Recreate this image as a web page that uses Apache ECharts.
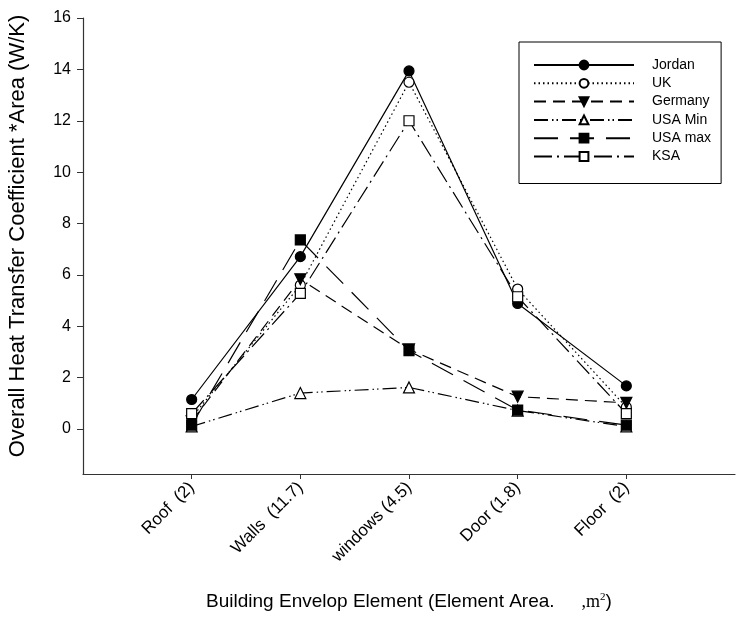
<!DOCTYPE html>
<html>
<head>
<meta charset="utf-8">
<script src="https://cdn.jsdelivr.net/npm/echarts@6/dist/echarts.min.js"></script>
<style>
  html, body { margin: 0; padding: 0; background: #fff; }
  #chart { width: 740px; height: 622px; }
</style>
</head>
<body>
<div id="chart"></div>
<script>
// categories along x (positions 1..5 on the value axis)
const categories = ['Roof  (2)', 'Walls  (11.7)', 'windows (4.5)', 'Door (1.8)', 'Floor  (2)'];
const yTicks = [0, 2, 4, 6, 8, 10, 12, 14, 16];

// values
const jordan  = [1.15, 6.71, 13.94, 4.89, 1.68];
const uk      = [0.45, 5.6, 13.5, 5.45, 0.85];
const germany = [0.3, 5.83, 3.1, 1.26, 1.02];
const usaMin  = [0.1, 1.4, 1.62, 0.72, 0.1];
const usaMax  = [0.15, 7.36, 3.05, 0.74, 0.15];
const ksa     = [0.6, 5.28, 12.0, 5.15, 0.6];

const toPoints = arr => arr.map((v, i) => [i + 1, v]);

const mk = (name, data, symbol, filled, dash, rotate) => ({
    name: name,
    type: 'line',
    data: toPoints(data),
    symbol: symbol,
    symbolSize: symbol === 'triangle' ? 11 : 10,
    symbolRotate: rotate || 0,
    showAllSymbol: true,
    z: 3,
    lineStyle: { color: '#000', width: 1.2, type: dash },
    itemStyle: { color: filled ? '#000' : '#fff', borderColor: '#000', borderWidth: 1.2 },
    emphasis: { disabled: true },
    animation: false
});

const chart = echarts.init(document.getElementById('chart'));

chart.setOption({
    animation: false,
    textStyle: { fontFamily: 'Liberation Sans, Arial, sans-serif', color: '#000' },
    grid: {
        left: 83, right: 5, top: 18, bottom: 148,
        containLabel: false,
        outerBoundsMode: 'none'
    },
    legend: {
        orient: 'vertical',
        left: 519,
        top: 42,
        padding: [16, 10, 20, 14],
        itemWidth: 100,
        itemHeight: 11,
        itemGap: 4.3,
        borderColor: '#000',
        borderWidth: 1,
        textStyle: { fontSize: 14, color: '#000', padding: [0, 0, 0, 13] },
        data: ['Jordan', 'UK', 'Germany', 'USA Min', 'USA max', 'KSA']
    },
    xAxis: {
        type: 'value',
        min: 0,
        max: 6,
        splitLine: { show: false },
        axisLine: { onZero: false, lineStyle: { color: '#333', width: 1.2 } },
        axisTick: { length: 5, lineStyle: { color: '#333' }, customValues: [1, 2, 3, 4, 5] },
        axisLabel: {
            customValues: [1, 2, 3, 4, 5],
            rotate: 45,
            fontSize: 17,
            color: '#000',
            margin: 11,
            formatter: v => categories[v - 1] || ''
        },
        name: '{a|Building Envelop Element (Element Area.}{b|      ,m}{s|2}{a|)}',
        nameLocation: 'middle',
        nameGap: 118,
        nameTextStyle: {
            rich: {
                a: { fontSize: 19, fontFamily: 'Liberation Sans, Arial, sans-serif', color: '#000' },
                b: { fontSize: 18, fontFamily: 'Liberation Serif, Times New Roman, serif', color: '#000' },
                s: { fontSize: 11, fontFamily: 'Liberation Serif, Times New Roman, serif', color: '#000', verticalAlign: 'top', padding: [0, 0, 9, 0] }
            }
        }
    },
    yAxis: {
        type: 'value',
        min: -1.75,
        max: 16,
        splitLine: { show: false },
        axisLine: { show: true, onZero: false, lineStyle: { color: '#333', width: 1.2 } },
        axisTick: { show: true, length: 6, lineStyle: { color: '#333' }, customValues: yTicks },
        axisLabel: { customValues: yTicks, fontSize: 16, color: '#000', margin: 12 },
        name: 'Overall Heat Transfer Coefficient *Area (W/K)',
        nameLocation: 'middle',
        nameGap: 54,
        nameTextStyle: { fontSize: 22, color: '#000', padding: [0, 0, 0, 20] }
    },
    series: [
        mk('Jordan', jordan, 'circle', true, 'solid'),
        mk('UK', uk, 'circle', false, [1.5, 3]),
        mk('Germany', germany, 'triangle', true, [12, 7], 180),
        mk('USA Min', usaMin, 'triangle', false, [14, 4, 1.5, 3, 1.5, 4]),
        mk('USA max', usaMax, 'rect', true, [24, 12]),
        mk('KSA', ksa, 'rect', false, [18, 5, 2, 5])
    ]
});
</script>
</body>
</html>
